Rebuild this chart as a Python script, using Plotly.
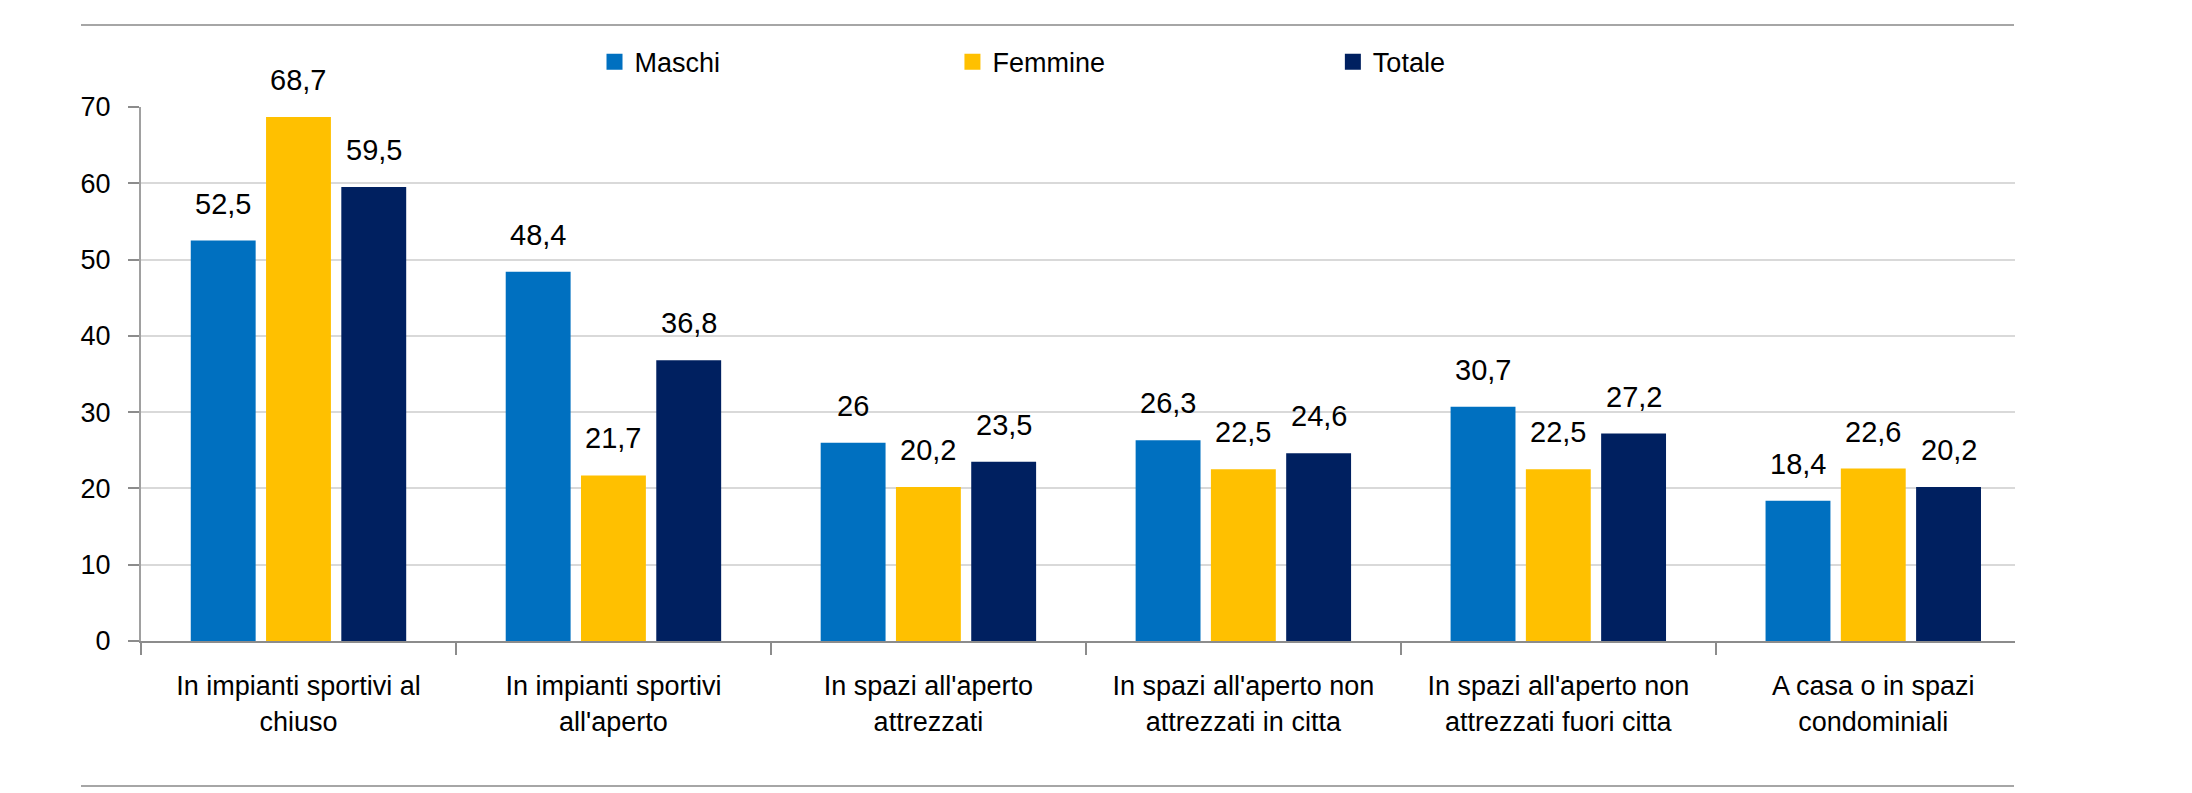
import plotly.graph_objects as go

categories = [
    "In impianti sportivi al<br>chiuso",
    "In impianti sportivi<br>all'aperto",
    "In spazi all'aperto<br>attrezzati",
    "In spazi all'aperto non<br>attrezzati in citta",
    "In spazi all'aperto non<br>attrezzati fuori citta",
    "A casa o in spazi<br>condominiali",
]
series_names = ["Maschi", "Femmine", "Totale"]
maschi = [52.5, 48.4, 26, 26.3, 30.7, 18.4]
femmine = [68.7, 21.7, 20.2, 22.5, 22.5, 22.6]
totale = [59.5, 36.8, 23.5, 24.6, 27.2, 20.2]
colors = ["#0070C0", "#FFC000", "#002060"]
y_ticks = [0, 10, 20, 30, 40, 50, 60, 70]

FONT = "Liberation Sans, Arial, sans-serif"
BARGAP = 0.283
series_values = [maschi, femmine, totale]

fig = go.Figure()
for name, vals, col in zip(series_names, series_values, colors):
    fig.add_trace(go.Bar(name=name, x=categories, y=vals, marker=dict(color=col, line=dict(width=0)),
                         showlegend=False, hoverinfo="x+y"))

# legend entries (square markers), one legend per entry
legend_names = ["legend", "legend2", "legend3"]
for name, col, lg in zip(series_names, colors, legend_names):
    fig.add_trace(go.Scatter(name=name, x=[None], y=[None], mode="markers",
                             marker=dict(symbol="square", size=20, color=col),
                             legend=lg, showlegend=True))

# data labels above bars
slot = (1 - BARGAP) / 3
for k, vals in enumerate(series_values):
    for i, v in enumerate(vals):
        fig.add_annotation(x=i + (k - 1) * slot, y=v, xref="x", yref="y",
                           text=f"{v:g}".replace(".", ","), showarrow=False,
                           yanchor="bottom", yshift=19,
                           font=dict(family=FONT, size=29, color="#000000"))

def legend_cfg(xpos):
    return dict(x=xpos, y=1.084, xanchor="left", yanchor="middle", orientation="h",
                font=dict(family=FONT, size=27, color="#000000"), bgcolor="rgba(0,0,0,0)",
                itemsizing="trace")

fig.update_layout(
    width=2184, height=785,
    margin=dict(l=133, r=177, t=99, b=152),
    paper_bgcolor="white", plot_bgcolor="white",
    barmode="group", bargap=BARGAP, bargroupgap=0.138,
    font=dict(family=FONT, size=27, color="#000000"),
    legend=legend_cfg(0.242),
    legend2=legend_cfg(0.433),
    legend3=legend_cfg(0.636),
    xaxis=dict(type="category", range=[-0.5, 5.45], tickson="boundaries", ticks="outside",
               ticklen=12, tickwidth=2, tickcolor="#8c8c8c", showline=True, linecolor="#8c8c8c",
               linewidth=2, showgrid=False, tickfont=dict(family=FONT, size=27, color="#000000"),
               ticklabelstandoff=20),
    yaxis=dict(range=[0, 70], tickvals=y_ticks, ticks="outside", ticklen=11, tickwidth=2,
               tickcolor="#8c8c8c", showline=True, linecolor="#a0a0a0", linewidth=2,
               showgrid=True, gridcolor="#d9d9d9", gridwidth=2, zeroline=False,
               tickfont=dict(family=FONT, size=27, color="#000000"), ticklabelstandoff=12),
    shapes=[
        dict(type="line", xref="paper", yref="paper", x0=(81 - 141) / 1874, x1=(2014 - 141) / 1874,
             y0=(641 - 25) / 534, y1=(641 - 25) / 534, line=dict(color="#a6a6a6", width=2)),
        dict(type="line", xref="paper", yref="paper", x0=(81 - 141) / 1874, x1=(2014 - 141) / 1874,
             y0=(641 - 786) / 534, y1=(641 - 786) / 534, line=dict(color="#a6a6a6", width=2)),
    ],
)

fig.write_html("out.html")
